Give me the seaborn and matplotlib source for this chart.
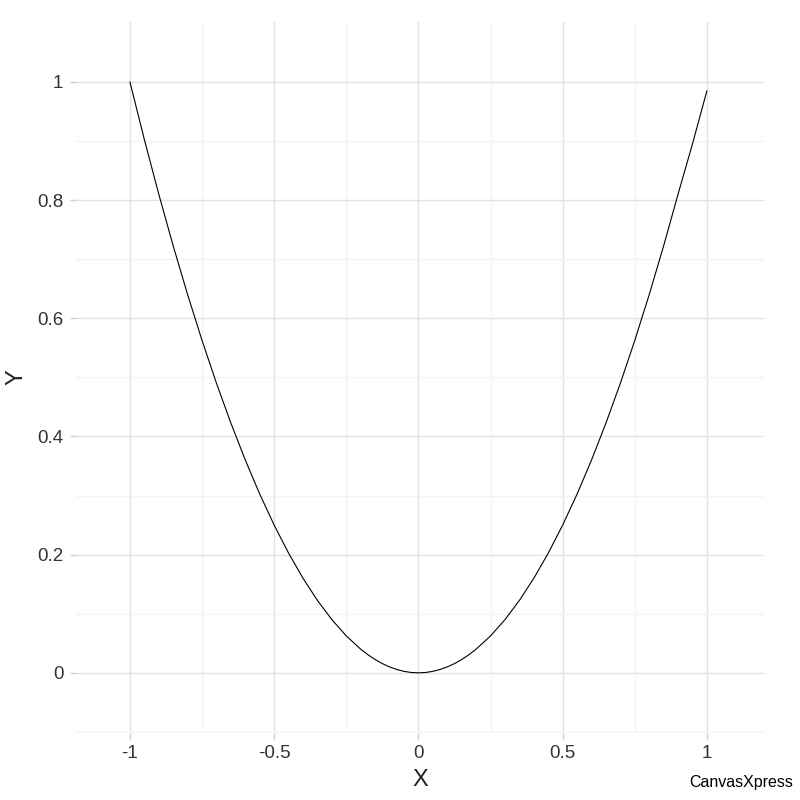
import matplotlib
matplotlib.use("Agg")
import matplotlib.pyplot as plt
import numpy as np
import pandas as pd
import seaborn as sns

# values
x_vals = [-1.00, -0.95, -0.90, -0.85, -0.80, -0.75, -0.70, -0.65, -0.60, -0.55,
          -0.50, -0.45, -0.40, -0.35, -0.30, -0.25, -0.20, -0.175, -0.15, -0.125,
          -0.10, -0.075, -0.05, -0.025, 0.00, 0.025, 0.05, 0.075, 0.10, 0.125,
          0.15, 0.175, 0.20, 0.25, 0.30, 0.35, 0.40, 0.45, 0.50, 0.55,
          0.60, 0.65, 0.70, 0.75, 0.80, 0.85, 0.90, 0.95, 1.00]
y_vals = [1.000, 0.9025, 0.810, 0.7225, 0.640, 0.5625, 0.490, 0.4225, 0.360, 0.3025,
          0.250, 0.2025, 0.160, 0.1225, 0.090, 0.0625, 0.040, 0.0306, 0.0225, 0.0156,
          0.010, 0.0056, 0.0025, 0.0006, 0.000, 0.0006, 0.0025, 0.0056, 0.010, 0.0156,
          0.0225, 0.0306, 0.040, 0.0625, 0.090, 0.1225, 0.160, 0.2025, 0.250, 0.3025,
          0.360, 0.4225, 0.490, 0.5625, 0.640, 0.7225, 0.810, 0.895, 0.985]
x_ticks = [-1, -0.5, 0, 0.5, 1]
x_tick_labels = ["-1", "-0.5", "0", "0.5", "1"]
y_ticks = [0, 0.2, 0.4, 0.6, 0.8, 1]
y_tick_labels = ["0", "0.2", "0.4", "0.6", "0.8", "1"]

df = pd.DataFrame({"X": x_vals, "Y": y_vals})

sns.set_theme(style="white")
plt.rcParams["font.family"] = ["Liberation Sans", "DejaVu Sans"]

fig = plt.figure(figsize=(8, 8), dpi=100)
ax = fig.add_axes([0.095, 0.084, 0.86, 0.8885])

sns.lineplot(data=df, x="X", y="Y", ax=ax, color="black", linewidth=0.8, sort=False)

ax.set_xlim(-1.187, 1.198)
ax.set_ylim(-0.1015, 1.1015)
ax.set_xticks(x_ticks)
ax.set_xticklabels(x_tick_labels)
ax.set_yticks(y_ticks)
ax.set_yticklabels(y_tick_labels)
ax.set_xticks([-0.75, -0.25, 0.25, 0.75], minor=True)
ax.set_yticks([-0.1, 0.1, 0.3, 0.5, 0.7, 0.9], minor=True)

ax.grid(which="major", color="#e2e2e2", linewidth=1)
ax.grid(which="minor", color="#f3f3f3", linewidth=1)
ax.set_axisbelow(True)
for s in ax.spines.values():
    s.set_visible(False)

ax.tick_params(which="major", length=4, width=1, color="#d0d0d0",
               labelsize=13.5, labelcolor="#333333", pad=5, bottom=True, left=True)
ax.tick_params(which="minor", length=0)

ax.set_xlabel("X", fontsize=17, color="#222222", labelpad=5)
ax.set_ylabel("Y", fontsize=17, color="#222222", labelpad=7)

fig.text(0.991, 0.0125, "CanvasXpress", ha="right", va="bottom", fontsize=11.5, color="black")

fig.savefig("out.png", dpi=100)
